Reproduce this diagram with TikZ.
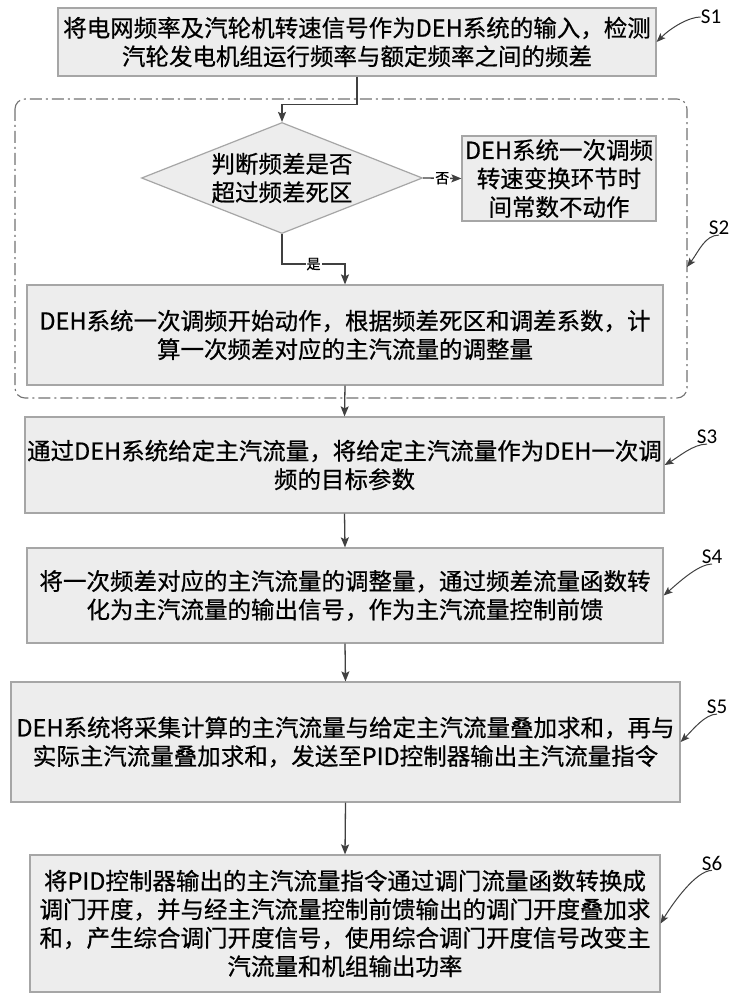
\documentclass[tikz,border=0pt]{standalone}
\usepackage{fontspec}
\setmainfont{Noto Sans CJK SC}[FakeBold=0.6]
\newfontfamily\labfont{Carlito}
\usetikzlibrary{shapes.geometric,arrows.meta}
\tikzset{
	procbox/.style={draw=black!35, fill=black!7, line width=1.2pt, inner sep=0pt, align=center, font=\fontsize{23.5}{28.5}\selectfont},
	decbox/.style={diamond, aspect=2.5, draw=black!35, fill=black!7, line width=1.2pt, inner sep=0pt, align=center, font=\fontsize{23.5}{28.5}\selectfont},
	grpbox/.style={draw=black!55, line width=1.1pt, rounded corners=10pt, dash pattern=on 12pt off 4pt on 2pt off 4pt},
	flowarr/.style={draw=black!75, line width=1.3pt, -{Stealth[length=10pt,width=8pt,inset=2pt]}},
	squig/.style={draw=black!75, line width=1pt, -{Stealth[length=9pt,width=7pt,inset=2pt]}},
	steplab/.style={font=\labfont\fontsize{21}{21}\selectfont, inner sep=0pt},
	yesno/.style={fill=white, inner sep=1pt, font=\fontsize{14}{14}\selectfont}
}

\begin{document}
\begin{tikzpicture}[x=1pt, y=-1pt]
		%%%%% START %%%%%
		\fill[white] (0, 0) rectangle (735, 1000);
		
		\draw[grpbox] (15, 99) rectangle (687, 398);
		\coordinate (g2) at (687, 267);
		
		\node[procbox, minimum width=598pt, minimum height=68pt] (s1) at (357, 42) {将电网频率及汽轮机转速信号作为DEH系统的输入，检测\\汽轮发电机组运行频率与额定频率之间的频差};
		\node[decbox, minimum width=281pt, minimum height=111pt] (dec) at (282, 178) {判断频差是否\\超过频差死区};
		\node[procbox, minimum width=194pt, minimum height=85pt] (nochg) at (559, 178.5) {DEH系统一次调频\\转速变换环节时\\间常数不动作};
		\node[procbox, minimum width=636pt, minimum height=100pt] (s2) at (345, 335) {DEH系统一次调频开始动作，根据频差死区和调差系数，计\\算一次频差对应的主汽流量的调整量};
		\node[procbox, minimum width=639pt, minimum height=96pt] (s3) at (344.5, 465) {通过DEH系统给定主汽流量，将给定主汽流量作为DEH一次调\\频的目标参数};
		\node[procbox, minimum width=636pt, minimum height=95pt] (s4) at (345, 595.5) {将一次频差对应的主汽流量的调整量，通过频差流量函数转\\化为主汽流量的输出信号，作为主汽流量控制前馈};
		\node[procbox, minimum width=669pt, minimum height=120pt] (s5) at (345.5, 742) {DEH系统将采集计算的主汽流量与给定主汽流量叠加求和，再与\\实际主汽流量叠加求和，发送至PID控制器输出主汽流量指令};
		\node[procbox, minimum width=630pt, minimum height=137pt] (s6) at (345, 923.5) {将PID控制器输出的主汽流量指令通过调门流量函数转换成\\调门开度，并与经主汽流量控制前馈输出的调门开度叠加求\\和，产生综合调门开度信号，使用综合调门开度信号改变主\\汽流量和机组输出功率};
		
		\draw[flowarr] (s1.south) -- ++(0, 28) -| (dec.north);
		\draw[flowarr] (dec.east) -- node[yesno] {否} (nochg.west);
		\draw[flowarr] (dec.south) -- ++(0, 30) -| node[yesno, pos=0.25] {是} (s2.north);
		\draw[flowarr] (s2.south) -- (s3.north);
		\draw[flowarr] (s3.south) -- (s4.north);
		\draw[flowarr] (s4.south) -- (s5.north);
		\draw[flowarr] (s5.south) -- (s6.north);
		
		\node[steplab] (lab1) at (711, 17) {S1};
		\node[steplab] (lab2) at (719, 228) {S2};
		\node[steplab] (lab3) at (707, 437) {S3};
		\node[steplab] (lab4) at (712, 557) {S4};
		\node[steplab] (lab5) at (717, 707) {S5};
		\node[steplab] (lab6) at (712, 863) {S6};
		
		\draw[squig] (lab1.west) .. controls +(-12, 0) and +(14, -14) .. (s1.east);
		\draw[squig] (lab2.south) .. controls +(-14, 0) and +(12, -16) .. (g2);
		\draw[squig] (lab3.south) .. controls +(-14, 0) and +(14, -8) .. (s3.east);
		\draw[squig] (lab4.south) .. controls +(-14, 0) and +(14, -12) .. (s4.east);
		\draw[squig] (lab5.south) .. controls +(-12, 0) and +(12, -12) .. (s5.east);
		\draw[squig] (lab6.south) .. controls +(-16, 0) and +(12, -20) .. (s6.east);
		%%%%% END %%%%%
\end{tikzpicture}
\end{document}
